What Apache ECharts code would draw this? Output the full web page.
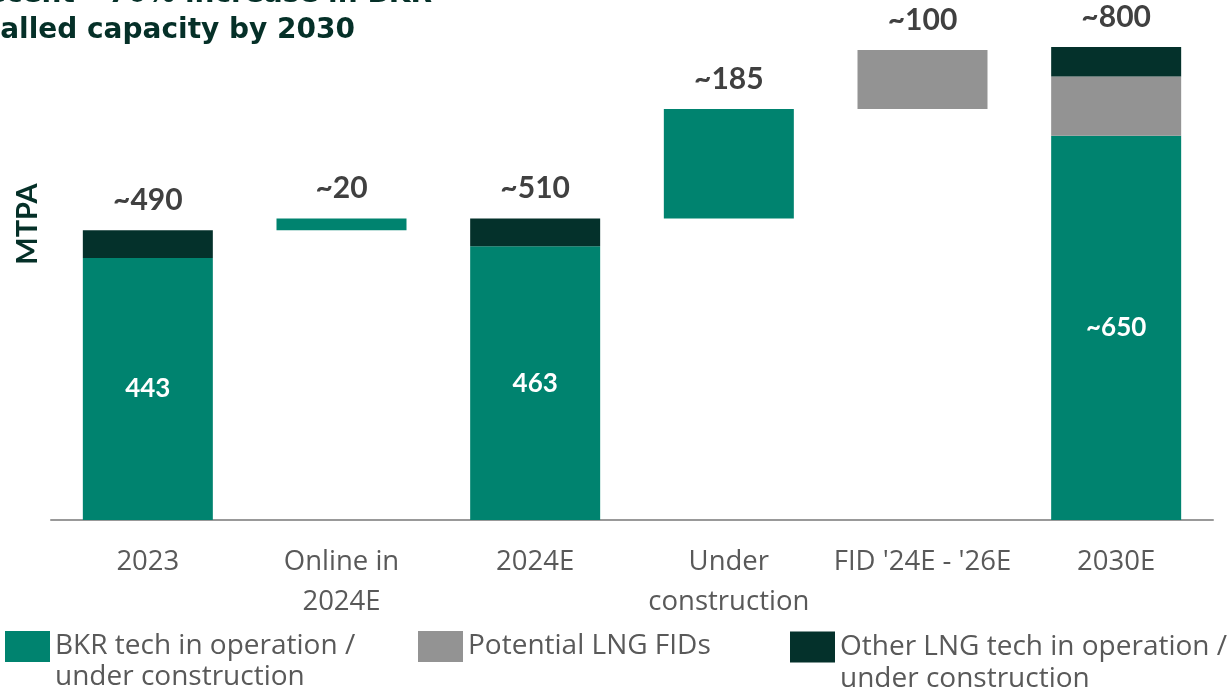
<!DOCTYPE html>
<html>
<head>
<meta charset="utf-8">
<script src="https://cdn.jsdelivr.net/npm/echarts@6/dist/echarts.min.js"></script>
<style>html,body{margin:0;padding:0;background:#fff}#c{width:1230px;height:692px}</style>
</head>
<body>
<div id="c"></div>
<script>
const categories = ['2023', 'Online in\n2024E', '2024E', 'Under\nconstruction', "FID '24E - '26E", '2030E'];
const baseValues = [0, 490, 0, 510, 695, 0];
const bkrValues = [443, 20, 463, 185, 0, 650];
const fidValues = [0, 0, 0, 0, 100, 100];
const otherValues = [47, 0, 47, 0, 0, 50];
const topLabels = ['~490', '~20', '~510', '~185', '~100', '~800'];
const innerLabels = ['443', '', '463', '', '', '~650'];
const seriesNames = ['BKR tech in operation /\nunder construction', 'Potential LNG FIDs', 'Other LNG tech in operation /\nunder construction'];

const colors = { bkr: '#00836F', fid: '#939393', other: '#04312B' };
const lblFont = 'Lato, "Open Sans", sans-serif';
const topLabelStyle = { show: true, position: 'top', distance: 15, color: '#404040', fontSize: 30, fontWeight: 'bold', fontFamily: lblFont };
const innerStyle = { show: true, position: 'inside', color: '#fff', fontSize: 26, fontWeight: 'bold', fontFamily: lblFont };

function topIndex(i) {
  if (otherValues[i] > 0) return 2;
  if (fidValues[i] > 0) return 1;
  return 0;
}
function buildData(values, sIdx) {
  return values.map((v, i) => {
    const item = { value: v > 0 ? v : '-' };
    if (sIdx === 0 && innerLabels[i]) {
      item.label = Object.assign({}, innerStyle, { formatter: innerLabels[i] });
    } else if (topIndex(i) === sIdx && v > 0) {
      item.label = Object.assign({}, topLabelStyle, { formatter: topLabels[i] });
    }
    return item;
  });
}

const chart = echarts.init(document.getElementById('c'), null, { renderer: 'canvas' });
// three text lines per legend item: blank, first line (aligned with the swatch), second line
const legendCommon = {
  top: 595, itemWidth: 45, itemHeight: 31, itemGap: 10, icon: 'rect', selectedMode: false,
  formatter: name => name.indexOf('\n') >= 0 ? ' \n' + name : ' \n' + name + '\n ',
  textStyle: { color: '#595959', fontSize: 28, fontFamily: '"Open Sans", sans-serif', lineHeight: 31 }
};
chart.setOption({
  animation: false,
  grid: { left: 51, right: 17, top: 47, bottom: 172 },
  legend: [
    Object.assign({}, legendCommon, { left: 0, data: [seriesNames[0]] }),
    Object.assign({}, legendCommon, { left: 413, data: [seriesNames[1]] }),
    Object.assign({}, legendCommon, { left: 785, top: 594, data: [seriesNames[2]], textStyle: Object.assign({}, legendCommon.textStyle, { lineHeight: 32 }) })
  ],
  xAxis: {
    type: 'category', data: categories,
    axisLine: { lineStyle: { color: '#999', width: 2 } },
    axisTick: { show: false },
    axisLabel: { color: '#595959', fontSize: 27.5, lineHeight: 40, margin: 22, fontFamily: '"Open Sans", sans-serif', interval: 0 }
  },
  yAxis: { type: 'value', min: 0, max: 800, show: false, splitLine: { show: false } },
  series: [
    { name: 'base', type: 'bar', stack: 'w', barWidth: 130, data: baseValues, itemStyle: { color: 'transparent' }, silent: true },
    { name: seriesNames[0], type: 'bar', stack: 'w', barWidth: 130, data: buildData(bkrValues, 0), itemStyle: { color: colors.bkr } },
    { name: seriesNames[1], type: 'bar', stack: 'w', barWidth: 130, data: buildData(fidValues, 1), itemStyle: { color: colors.fid } },
    { name: seriesNames[2], type: 'bar', stack: 'w', barWidth: 130, data: buildData(otherValues, 2), itemStyle: { color: colors.other } }
  ],
  graphic: [
    { type: 'text', x: 432, y: -5, style: { text: 'Recent ~70% increase in BKR', fill: '#053028', align: 'right', verticalAlign: 'middle', font: 'bold 28px "DejaVu Sans", sans-serif' } },
    { type: 'text', x: 355, y: 31, style: { text: 'installed capacity by 2030', fill: '#053028', align: 'right', verticalAlign: 'middle', font: 'bold 28px "DejaVu Sans", sans-serif' } },
    { type: 'text', x: 28, y: 224, rotation: Math.PI / 2, style: { text: 'MTPA', fill: '#053028', font: 'bold 29px Lato, "Open Sans", sans-serif', align: 'center', verticalAlign: 'middle' } }
  ]
});
</script>
</body>
</html>
